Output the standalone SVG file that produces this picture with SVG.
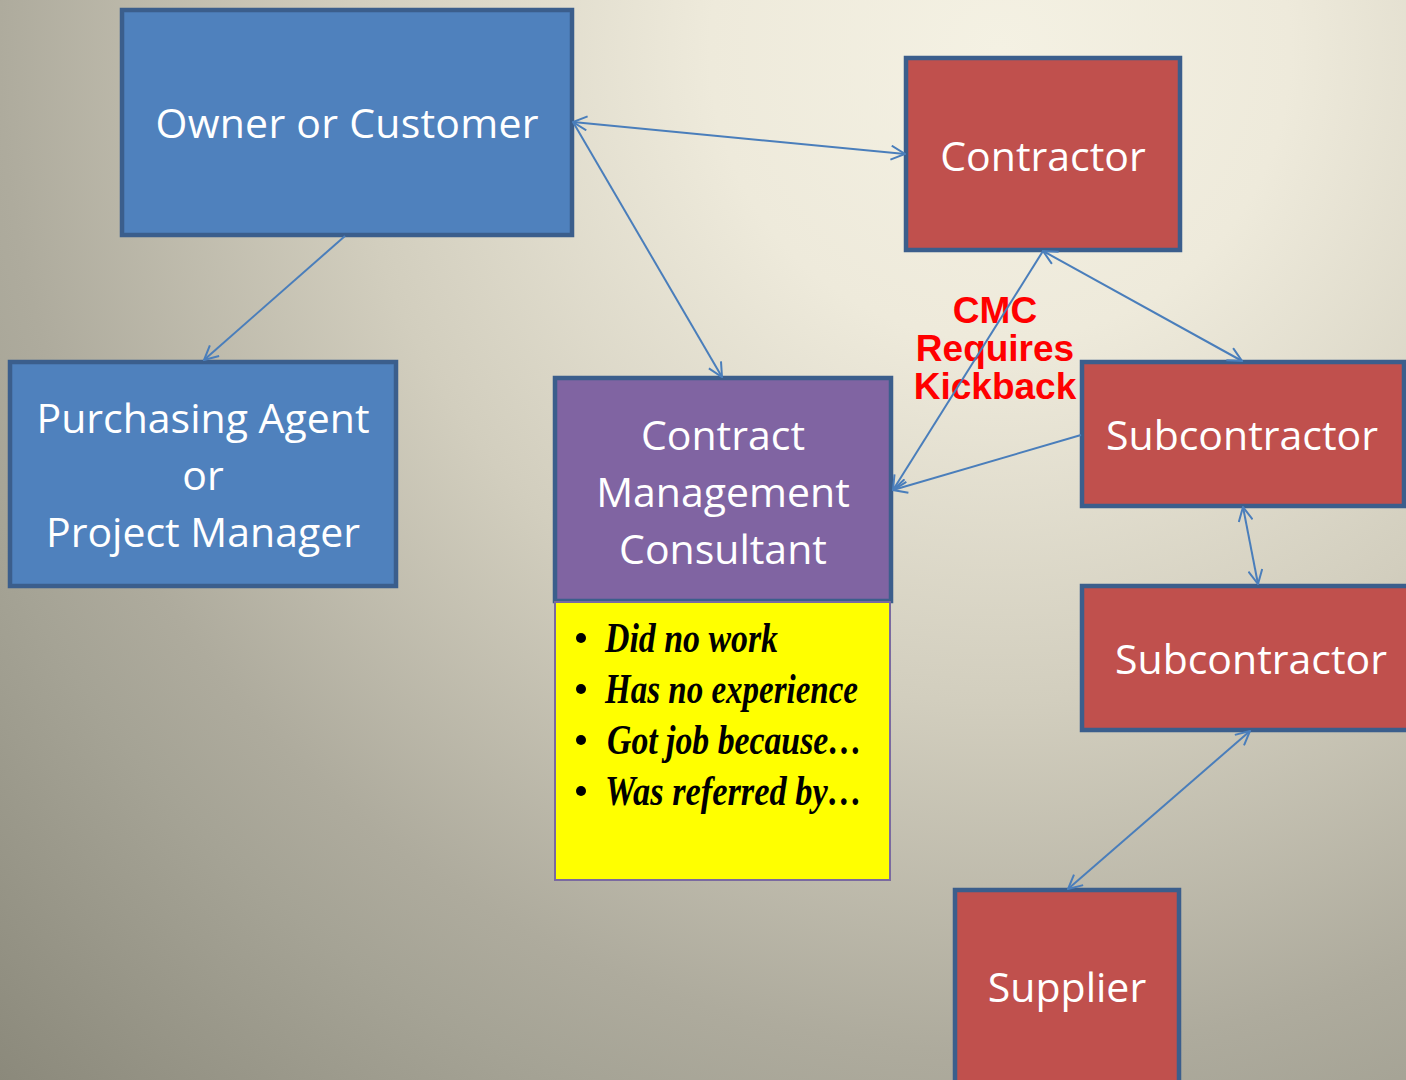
<svg xmlns="http://www.w3.org/2000/svg" width="1406" height="1080" viewBox="0 0 1406 1080">
<defs>
<radialGradient id="bg" gradientUnits="userSpaceOnUse" cx="1000" cy="50" r="1450">
<stop offset="0" stop-color="#f4f1e3"/>
<stop offset="0.2" stop-color="#eeeadb"/>
<stop offset="0.45" stop-color="#d2cebe"/>
<stop offset="0.69" stop-color="#aeab9d"/>
<stop offset="0.77" stop-color="#a5a395"/>
<stop offset="1" stop-color="#8a887a"/>
</radialGradient>
<marker id="arr" viewBox="0 0 16 16" refX="15" refY="8" markerWidth="16" markerHeight="16" markerUnits="userSpaceOnUse" orient="auto-start-reverse">
<path d="M1,1 L15,8 L1,15" fill="none" stroke="#4a7ebb" stroke-width="2"/>
</marker>
<style>
.box{stroke:#3b5e8c;stroke-width:4.5}
.blue{fill:#4f81bd}
.red{fill:#c0504d}
.purple{fill:#8064a2}
.lbl{font-family:"Open Sans","Noto Sans",sans-serif;font-size:41px;fill:#ffffff;text-anchor:middle}
.conn{stroke:#4a7ebb;stroke-width:2;fill:none}
.kick{font-family:"Liberation Sans",Arial,sans-serif;font-weight:bold;font-size:37px;fill:#ff0000;text-anchor:middle}
.bul{font-family:"Liberation Serif","Times New Roman",serif;font-weight:bold;font-style:italic;font-size:42px;fill:#000000}
</style>
</defs>
<rect width="1406" height="1080" fill="url(#bg)"/>

<g id="owner">
<rect class="box blue" x="122" y="10" width="450" height="225"/>
<text class="lbl" x="347" y="138" textLength="383" lengthAdjust="spacing">Owner or Customer</text>
</g>
<g id="contractor">
<rect class="box red" x="906" y="58" width="274" height="192"/>
<text class="lbl" x="1043" y="171">Contractor</text>
</g>
<g id="purchasing">
<rect class="box blue" x="10" y="362" width="386" height="224"/>
<text class="lbl" x="203" y="433">Purchasing Agent</text>
<text class="lbl" x="203" y="490">or</text>
<text class="lbl" x="203" y="547">Project Manager</text>
</g>
<g id="cmc">
<rect class="box purple" x="555" y="378" width="336" height="223"/>
<text class="lbl" x="723" y="450">Contract</text>
<text class="lbl" x="723" y="507">Management</text>
<text class="lbl" x="723" y="564">Consultant</text>
</g>
<g id="notes">
<rect x="555" y="602" width="335" height="278" fill="#ffff00" stroke="#7a6aa0" stroke-width="2"/>
<circle cx="581" cy="638" r="5" fill="#000"/>
<circle cx="581" cy="689" r="5" fill="#000"/>
<circle cx="581" cy="740" r="5" fill="#000"/>
<circle cx="581" cy="791" r="5" fill="#000"/>
<text class="bul" x="605" y="652" textLength="173" lengthAdjust="spacingAndGlyphs">Did no work</text>
<text class="bul" x="605" y="703" textLength="253" lengthAdjust="spacingAndGlyphs">Has no experience</text>
<text class="bul" x="607" y="754" textLength="255" lengthAdjust="spacingAndGlyphs">Got job because…</text>
<text class="bul" x="605" y="805" textLength="257" lengthAdjust="spacingAndGlyphs">Was referred by…</text>
</g>
<g id="sub1">
<rect class="box red" x="1082" y="362" width="322" height="144"/>
<text class="lbl" x="1242" y="450">Subcontractor</text>
</g>
<g id="sub2">
<rect class="box red" x="1082" y="586" width="330" height="144"/>
<text class="lbl" x="1251" y="674">Subcontractor</text>
</g>
<g id="supplier">
<rect class="box red" x="955" y="890" width="224" height="200"/>
<text class="lbl" x="1067" y="1002">Supplier</text>
</g>
<g id="kickback">
<text class="kick" x="995" y="323">CMC</text>
<text class="kick" x="995" y="361">Requires</text>
<text class="kick" x="995" y="399">Kickback</text>
</g>

<g id="connectors">
<line class="conn" x1="573" y1="122" x2="905" y2="154" marker-start="url(#arr)" marker-end="url(#arr)"/>
<line class="conn" x1="573" y1="122" x2="722" y2="377" marker-end="url(#arr)"/>
<line class="conn" x1="345" y1="236" x2="204" y2="360" marker-end="url(#arr)"/>
<line class="conn" x1="1043" y1="251" x2="1242" y2="361" marker-start="url(#arr)" marker-end="url(#arr)"/>
<line class="conn" x1="1043" y1="251" x2="893" y2="490" marker-end="url(#arr)"/>
<line class="conn" x1="1081" y1="435" x2="893" y2="490" marker-end="url(#arr)"/>
<line class="conn" x1="1243" y1="507" x2="1258" y2="584" marker-start="url(#arr)" marker-end="url(#arr)"/>
<line class="conn" x1="1250" y1="731" x2="1068" y2="889" marker-start="url(#arr)" marker-end="url(#arr)"/>
</g>
</svg>
